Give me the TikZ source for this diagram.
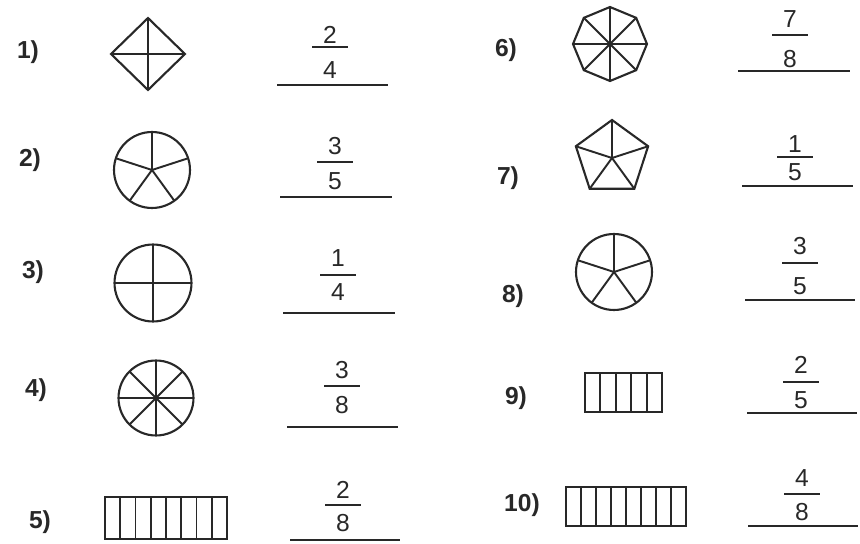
\documentclass[tikz,border=0pt]{standalone}
\usepackage{fontspec}
\setmainfont{Liberation Sans}
\usetikzlibrary{positioning,calc,shapes.geometric}
\definecolor{InkGray}{RGB}{40,40,40}
\tikzset{
  figure/.style={draw=InkGray, line width=1.2pt, inner sep=0pt, outer sep=0pt},
  spoke/.style={draw=InkGray, line width=1.1pt},
  label/.style={font=\fontsize{14}{16}\selectfont\bfseries, text=InkGray, inner sep=0pt},
  digit/.style={font=\fontsize{14}{16}\selectfont, text=InkGray, inner sep=0pt},
  bar/.style={draw=InkGray, line width=1.1pt},
  answer/.style={draw=InkGray, line width=1.2pt}
}
\begin{document}
\begin{tikzpicture}[x=0.02cm, y=-0.02cm]
  \useasboundingbox (0,0) rectangle (860,544);

  % item numbers
  \node[label] (l1) at (28,52) {1)};
  \node[label] (l2) at (30,160) {2)};
  \node[label] (l3) at (33,272) {3)};
  \node[label] (l4) at (36,390) {4)};
  \node[label] (l5) at (40,522) {5)};
  \node[label] (l6) at (506,50) {6)};
  \node[label] (l7) at (508,178) {7)};
  \node[label] (l8) at (513,296) {8)};
  \node[label] (l9) at (516,398) {9)};
  \node[label] (l10) at (522,505) {10)};

  % left column shapes
  \node[figure, diamond, minimum width=1.48cm, minimum height=1.44cm] (s1) at (148,54) {};
  \draw[spoke] (s1.north) -- (s1.south);
  \draw[spoke] (s1.west) -- (s1.east);

  \node[figure, circle, minimum size=1.52cm] (s2) at (152,170) {};
  \foreach \a in {18,90,162,234,306}
    \draw[spoke] (s2.center) -- (s2.\a);

  \node[figure, circle, minimum size=1.54cm] (s3) at (153,283) {};
  \foreach \a in {0,90,180,270}
    \draw[spoke] (s3.center) -- (s3.\a);

  \node[figure, circle, minimum size=1.5cm] (s4) at (156,398) {};
  \foreach \a in {0,45,...,315}
    \draw[spoke] (s4.center) -- (s4.\a);

  \node[figure, rectangle, minimum width=2.44cm, minimum height=0.84cm] (s5) at (166,518) {};
  \foreach \i in {1,...,7}
    \draw[spoke] ($(s5.south west)!\i/8!(s5.south east)$) -- ($(s5.north west)!\i/8!(s5.north east)$);

  % right column shapes
  \node[figure, regular polygon, regular polygon sides=8, shape border rotate=22.5, minimum size=1.48cm] (s6) at (610,44) {};
  \foreach \c in {1,...,8}
    \draw[spoke] (s6.center) -- (s6.corner \c);

  \node[figure, regular polygon, regular polygon sides=5, minimum size=1.52cm] (s7) at (612,158) {};
  \foreach \c in {1,...,5}
    \draw[spoke] (s7.center) -- (s7.corner \c);

  \node[figure, circle, minimum size=1.52cm] (s8) at (614,272) {};
  \foreach \a in {18,90,162,234,306}
    \draw[spoke] (s8.center) -- (s8.\a);

  \node[figure, rectangle, minimum width=1.54cm, minimum height=0.78cm] (s9) at (623.5,392.5) {};
  \foreach \i in {1,...,4}
    \draw[spoke] ($(s9.south west)!\i/5!(s9.south east)$) -- ($(s9.north west)!\i/5!(s9.north east)$);

  \node[figure, rectangle, minimum width=2.4cm, minimum height=0.78cm] (s10) at (626,506.5) {};
  \foreach \i in {1,...,7}
    \draw[spoke] ($(s10.south west)!\i/8!(s10.south east)$) -- ($(s10.north west)!\i/8!(s10.north east)$);

  % fractions and answer lines
  \foreach \k/\x/\ny/\y/\dy/\num/\den/\la/\ly/\lb in {
      1/330/35/47/70/2/4/277/85/388,
      2/335/146/162/181/3/5/280/197/392,
      3/338/258/275/292/1/4/283/313/395,
      4/342/370/386/405/3/8/287/427/398,
      5/343/490/505/523/2/8/290/540/400,
      6/790/19/35/59/7/8/738/71/850,
      7/795/144/157/172/1/5/742/186/853,
      8/800/246/263/286/3/5/745/300/855,
      9/801/365/382/400/2/5/747/413/857,
      10/802/478/494/512/4/8/748/526/858} {
    \node[digit] (n\k) at (\x,\ny) {\num};
    \node[digit] (d\k) at (\x,\dy) {\den};
    \coordinate (b\k) at (\x,\y);
    \draw[bar] ($(b\k)+(-18,0)$) -- ($(b\k)+(18,0)$);
    \coordinate (a\k) at (\la,\ly);
    \coordinate (e\k) at (\lb,\ly);
    \draw[answer] (a\k) -- (e\k);
  }
\end{tikzpicture}
\end{document}
